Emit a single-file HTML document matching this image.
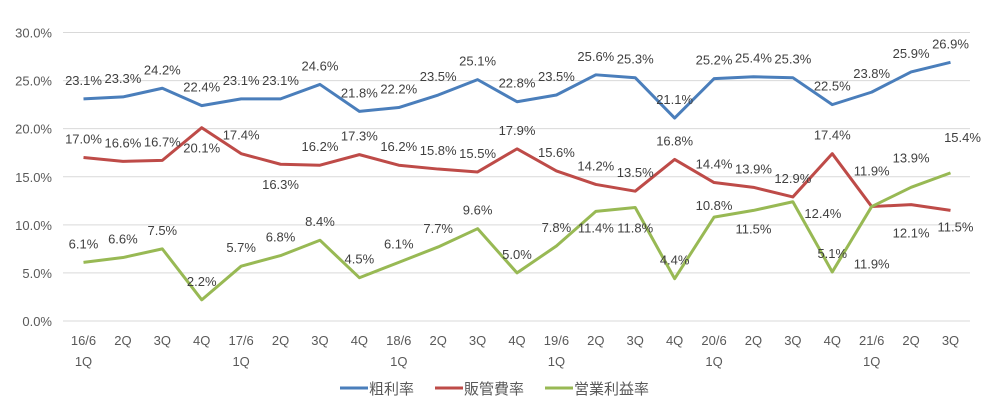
<!DOCTYPE html>
<html><head><meta charset="utf-8"><style>
body{margin:0;background:#fff;}
svg{display:block;font-family:"Liberation Sans","Noto Sans CJK JP",sans-serif;}
</style></head><body>
<svg id="chart" width="994" height="411" viewBox="0 0 994 411"></svg>
<script>
const categories=["16/6|1Q","2Q","3Q","4Q","17/6|1Q","2Q","3Q","4Q","18/6|1Q","2Q","3Q","4Q","19/6|1Q","2Q","3Q","4Q","20/6|1Q","2Q","3Q","4Q","21/6|1Q","2Q","3Q"];
const grossMargin=[23.1,23.3,24.2,22.4,23.1,23.1,24.6,21.8,22.2,23.5,25.1,22.8,23.5,25.6,25.3,21.1,25.2,25.4,25.3,22.5,23.8,25.9,26.9];
const sgaRatio=[17.0,16.6,16.7,20.1,17.4,16.3,16.2,17.3,16.2,15.8,15.5,17.9,15.6,14.2,13.5,16.8,14.4,13.9,12.9,17.4,11.9,12.1,11.5];
const opMargin=[6.1,6.6,7.5,2.2,5.7,6.8,8.4,4.5,6.1,7.7,9.6,5.0,7.8,11.4,11.8,4.4,10.8,11.5,12.4,5.1,11.9,13.9,15.4];
const yTicks=[0,5,10,15,20,25,30];
const seriesNames=["粗利率","販管費率","営業利益率"];
// label placement offsets (styling only)
const sgaLabelDy={3:20,5:20,20:-36,21:28,22:16};
const sgaLabelDx={22:5};
const opLabelDy={13:16,14:20,16:-12,17:18,18:11,20:57,21:-30,22:-36};
const opLabelDx={18:30,22:12};

const NS="http://www.w3.org/2000/svg";
const svg=document.getElementById('chart');
const x=i=>83.5+i*(950.5-83.5)/(categories.length-1);
const y=v=>321-v*(321-32.5)/30;
function el(tag,attrs,parent){const e=document.createElementNS(NS,tag);for(const k in attrs)e.setAttribute(k,attrs[k]);(parent||svg).appendChild(e);return e;}

yTicks.forEach(t=>{
  const g=el('line',{x1:63,x2:970,y1:y(t),y2:y(t),stroke:'#d9d9d9','stroke-width':1});
  
  
  const tx=el('text',{x:52,y:y(t)+5,'text-anchor':'end','font-size':13,fill:'#595959'});
  tx.textContent=t.toFixed(1)+'%';
  
  
});
categories.forEach((c,i)=>{
  const parts=c.split('|');
  parts.forEach((p,j)=>{
    const tx=el('text',{x:x(i),y:345+j*21,'text-anchor':'middle','font-size':13,fill:'#595959'});
    tx.textContent=p;
    
    
  });
});
function series(data,color,name,dyMap,dxMap){
  const pl=el('polyline',{points:data.map((v,i)=>x(i)+','+y(v)).join(' '),fill:'none',stroke:color,'stroke-width':3,'stroke-linejoin':'round'});
  
  
  data.forEach((v,i)=>{
    const dy=(dyMap[i]!==undefined?dyMap[i]:-19);
    const dx=dxMap[i]||0;
    const tx=el('text',{x:x(i)+dx,y:y(v)+dy+5,'text-anchor':'middle','font-size':13,fill:'#404040'});
    tx.textContent=v.toFixed(1)+'%';
    
    
  });
}
series(grossMargin,'#4a7ebb','gross-margin',{},{});
series(sgaRatio,'#be4b48','sga-ratio',sgaLabelDy,sgaLabelDx);
series(opMargin,'#98b954','operating-margin',opLabelDy,opLabelDx);

const legendColors=['#4a7ebb','#be4b48','#98b954'];
const legendX=[340,435,545];
seriesNames.forEach((n,i)=>{
  const ln=el('line',{x1:legendX[i],x2:legendX[i]+28,y1:388,y2:388,stroke:legendColors[i],'stroke-width':3});
  
  
  const tx=el('text',{x:legendX[i]+29,y:394,'font-size':15,fill:'#595959'});
  tx.textContent=n;
  
  
});
</script>
</body></html>
